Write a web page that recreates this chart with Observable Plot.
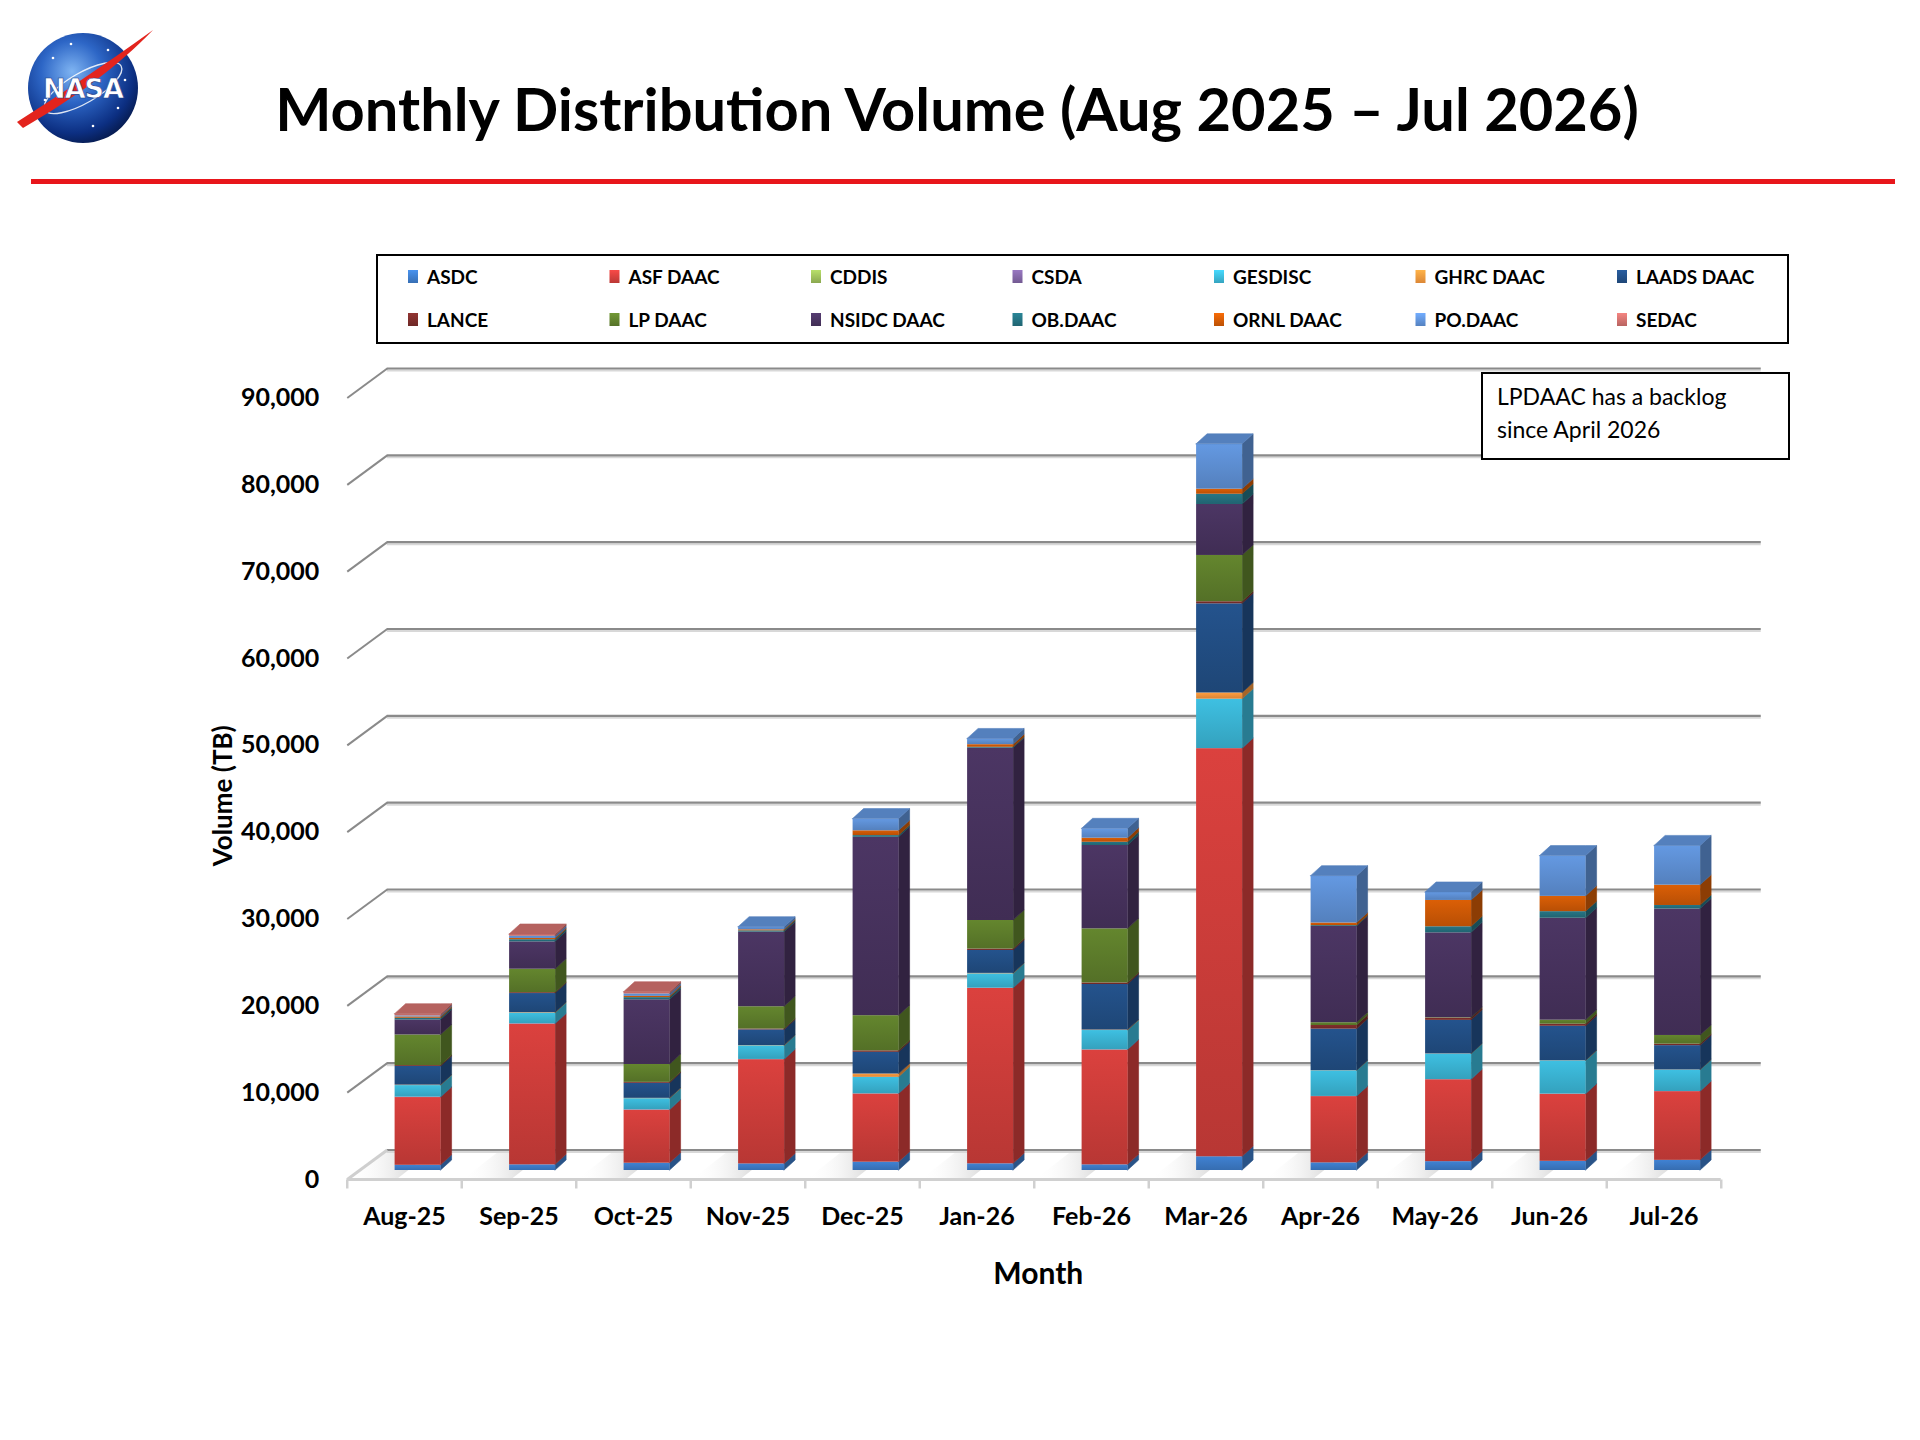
<!DOCTYPE html>
<html>
<head>
<meta charset="utf-8">
<script src="https://cdn.jsdelivr.net/npm/d3@7"></script>
<script src="https://cdn.jsdelivr.net/npm/@observablehq/plot@0.6"></script>
<style>
  html, body { margin: 0; padding: 0; background: #fff; }
  body { width: 1920px; height: 1440px; position: relative; overflow: hidden; font-family: Lato, "Open Sans", sans-serif; }
  #header { position: absolute; left: 0; top: 0; }
  #chart { position: absolute; left: 0; top: 350px; }
  #note { position: absolute; left: 1481px; top: 372px; width: 309px; height: 88px; box-sizing: border-box;
          border: 2px solid #000; background: #fff; font-family: Lato, sans-serif; font-size: 23px;
          line-height: 33px; padding: 6px 0 0 14px; color: #000; }
</style>
</head>
<body>
<div id="header"></div>
<div id="chart"></div>
<div id="note">LPDAAC has a backlog<br>since April 2026</div>
<script>
// ---------------- DATA ----------------
const months = ["Aug-25", "Sep-25", "Oct-25", "Nov-25", "Dec-25", "Jan-26", "Feb-26", "Mar-26", "Apr-26", "May-26", "Jun-26", "Jul-26"];
const seriesNames = ["ASDC", "ASF DAAC", "CDDIS", "CSDA", "GESDISC", "GHRC DAAC", "LAADS DAAC",
                     "LANCE", "LP DAAC", "NSIDC DAAC", "OB.DAAC", "ORNL DAAC", "PO.DAAC", "SEDAC"];
const seriesColors = ["#3d7bc8", "#d03e3b", "#9bbb59", "#8064a2", "#3bb6d6", "#f5963c", "#224f86",
                      "#7a2c2a", "#5f7f2c", "#48335f", "#24707f", "#d05a06", "#5f91d6", "#cd6f6c"];
const yTicks = [0, 10000, 20000, 30000, 40000, 50000, 60000, 70000, 80000, 90000];

// Volume (TB) per month, Aug-25 .. Jul-26
const asdc      = [600, 650, 840, 760, 960, 770, 650, 1580, 880, 1020, 1060, 1170];
const asfDaac   = [7800, 16200, 6100, 12000, 7850, 20200, 13220, 47000, 7630, 9430, 7720, 7910];
const cddis     = [0, 0, 0, 0, 0, 0, 0, 0, 0, 0, 0, 0];
const csda      = [50, 50, 50, 30, 20, 30, 30, 10, 20, 20, 20, 20];
const gesdisc   = [1330, 1230, 1280, 1570, 1900, 1650, 2220, 5690, 2950, 2940, 3820, 2460];
const ghrcDaac  = [50, 50, 40, 30, 380, 50, 50, 710, 20, 20, 20, 20];
const laadsDaac = [2150, 2200, 1730, 1800, 2500, 2640, 5250, 10270, 4780, 3860, 3970, 2800];
const lance     = [100, 100, 110, 100, 170, 160, 180, 240, 420, 260, 240, 170];
const lpDaac    = [3530, 2700, 2060, 2570, 4050, 3290, 6230, 5330, 320, 50, 460, 1000];
const nsidcDaac = [1720, 3150, 7450, 8590, 20540, 19850, 9600, 5870, 11080, 9770, 11740, 14560];
const obDaac    = [200, 250, 250, 150, 200, 100, 370, 1180, 100, 700, 760, 410];
const ornlDaac  = [150, 150, 150, 120, 550, 300, 470, 580, 300, 3030, 1760, 2340];
const poDaac    = [120, 250, 270, 300, 1350, 660, 1080, 5170, 5400, 920, 4640, 4520];
const sedac     = [200, 200, 200, 0, 0, 0, 0, 0, 0, 0, 0, 0];

const seriesValues = [asdc, asfDaac, cddis, csda, gesdisc, ghrcDaac, laadsDaac,
                      lance, lpDaac, nsidcDaac, obDaac, ornlDaac, poDaac, sedac];

// ---------------- GEOMETRY (pixel constants -> data units) ----------------
const W = 1920, H = 1090;
const mL = 346.75, mR = 199.25, mT = 47.5, mB = 261;
const PXM = (W - mL - mR) / 12;            // px per month
const TBPX = 90000 / (H - mB - mT);        // TB per px
const BDX = 40 / PXM, BDY = 29.5 * TBPX;   // back wall offset
const XOFF = 13.6 / PXM, HALF = 23 / PXM;  // bar front face
const DDX = 11 / PXM, DDY = 10 * TBPX;     // bar depth
const BASE = 9 * TBPX;                     // bar sits a bit behind the front edge
const SHW = 0.42;                          // floor shadow width (months)

// ---------------- STACK ----------------
const rows = [], sidePts = [], topPts = [], shadowPts = [];
months.forEach((m, i) => {
  let acc = 0, lastS = 0;
  seriesValues.forEach((arr, s) => {
    const v = arr[i];
    if (v > 0) {
      const r = {i, s, y0: acc, y1: acc + v, key: i + "-" + s};
      rows.push(r);
      const xr = i + XOFF + HALF;
      sidePts.push({key: r.key, s, x: xr, lo: r.y0 + BASE, hi: r.y1 + BASE});
      sidePts.push({key: r.key, s, x: xr + DDX, lo: r.y0 + BASE + DDY, hi: r.y1 + BASE + DDY});
      acc += v; lastS = s;
    }
  });
  const xl = i + XOFF - HALF, xr = i + XOFF + HALF, yt = acc + BASE;
  const k = "top" + i;
  topPts.push({key: k, s: lastS, x: xl, lo: yt, hi: yt});
  topPts.push({key: k, s: lastS, x: xl + DDX, lo: yt, hi: yt + DDY});
  topPts.push({key: k, s: lastS, x: xr, lo: yt, hi: yt + DDY});
  topPts.push({key: k, s: lastS, x: xr + DDX, lo: yt + DDY, hi: yt + DDY});
  // soft floor shadow, cast along the depth direction to the left of the bar
  shadowPts.push({key: "sh" + i, y: 0, a: xl - SHW + 0.02, b: xl + 0.02});
  shadowPts.push({key: "sh" + i, y: BDY, a: xl - SHW + BDX, b: xl + BDX});
});

const sideColor = seriesColors.map(c => d3.color(c).darker(1.1).formatHex());
const topColor = seriesColors.map(c => d3.color(c).darker(0.35).formatHex());
const bounds = d3.range(13).map(i => i - 0.5);

const chart = Plot.plot({
  width: W, height: H,
  marginLeft: mL, marginRight: mR, marginTop: mT, marginBottom: mB,
  x: {type: "linear", domain: [-0.5, 11.5], nice: false},
  y: {domain: [0, 90000], nice: false},
  color: {type: "identity"},
  style: {fontFamily: "Lato, sans-serif", color: "#000", background: "transparent", overflow: "visible"},
  marks: [
    // floor shadows
    Plot.areaX(shadowPts, {y: "y", x1: "a", x2: "b", z: "key", fill: "url(#shadow)"}),
    // back wall gridlines
    Plot.ruleY(yTicks, {y: d => d + BDY, x1: -0.5 + BDX, x2: 11.5 + BDX, stroke: "#d8d8d8", strokeWidth: 2, dy: 2}),
    Plot.ruleY(yTicks, {y: d => d + BDY, x1: -0.5 + BDX, x2: 11.5 + BDX, stroke: "#8a8a8a", strokeWidth: 2.2}),
    // left perspective edges
    Plot.link(yTicks, {x1: -0.5, y1: d => d, x2: -0.5 + BDX, y2: d => d + BDY,
                       stroke: d => d === 0 ? "#cfcfcf" : "#8a8a8a", strokeWidth: d => d === 0 ? 3 : 2}),
    // floor front edge and category ticks
    Plot.ruleY([0], {x1: -0.5, x2: 11.5, stroke: "#d0d0d0", strokeWidth: 3}),
    Plot.link(bounds, {x1: d => d, x2: d => d, y1: 0, y2: -9 * TBPX, stroke: "#d0d0d0", strokeWidth: 2.5}),
    // bars: side faces, front faces, top faces
    Plot.areaY(sidePts, {x: "x", y1: "lo", y2: "hi", z: "key", fill: d => sideColor[d.s], stroke: d => sideColor[d.s], strokeWidth: 0.6}),
    Plot.rect(rows, {x1: d => d.i + XOFF - HALF, x2: d => d.i + XOFF + HALF, y1: d => d.y0 + BASE, y2: d => d.y1 + BASE,
                     fill: d => `url(#gf${d.s})`}),
    Plot.areaY(topPts, {x: "x", y1: "lo", y2: "hi", z: "key", fill: d => topColor[d.s], stroke: d => topColor[d.s], strokeWidth: 0.6}),
    // axes
    Plot.axisY({ticks: yTicks, tickSize: 0, tickPadding: 28, tickFormat: d3.format(","), fontSize: 25, fontWeight: "bold", label: null}),
    Plot.axisX({ticks: d3.range(12), tickFormat: i => months[i], tickSize: 0, tickPadding: 28, fontSize: 25, fontWeight: "bold", label: null}),
    Plot.text(["Volume (TB)"], {text: d => d, frameAnchor: "left", textAnchor: "middle", lineAnchor: "middle",
                                rotate: -90, dx: -124, dy: 7, fontSize: 26, fontWeight: "bold", fill: "#000"}),
    Plot.text(["Month"], {text: d => d, frameAnchor: "bottom", textAnchor: "middle", lineAnchor: "middle",
                          dy: 95, dx: 4, fontSize: 30, fontWeight: "bold", fill: "#000"})
  ]
});

// gradients for front faces and floor shadow
const defs = d3.select(chart).insert("defs", ":first-child");
seriesColors.forEach((c, s) => {
  const g = defs.append("linearGradient").attr("id", "gf" + s).attr("x1", 0).attr("y1", 0).attr("x2", 0).attr("y2", 1);
  g.append("stop").attr("offset", "0%").attr("stop-color", d3.color(c).brighter(0.15).formatHex());
  g.append("stop").attr("offset", "100%").attr("stop-color", d3.color(c).darker(0.35).formatHex());
});
const sg = defs.append("linearGradient").attr("id", "shadow").attr("x1", 0).attr("y1", 0).attr("x2", 1).attr("y2", 0);
sg.append("stop").attr("offset", "0%").attr("stop-color", "#ffffff").attr("stop-opacity", 0);
sg.append("stop").attr("offset", "75%").attr("stop-color", "#d4d4d4").attr("stop-opacity", 0.9);
sg.append("stop").attr("offset", "100%").attr("stop-color", "#c8c8c8").attr("stop-opacity", 1);
document.getElementById("chart").appendChild(chart);

// ---------------- HEADER: logo, title, rule, legend ----------------
const hs = d3.select("#header").append("svg").attr("width", 1920).attr("height", 350)
  .style("font-family", "Lato, sans-serif");
const hdefs = hs.append("defs");
const rg = hdefs.append("radialGradient").attr("id", "ball").attr("cx", "40%").attr("cy", "35%").attr("r", "70%");
rg.append("stop").attr("offset", "0%").attr("stop-color", "#7fb4f2");
rg.append("stop").attr("offset", "40%").attr("stop-color", "#2d66c6");
rg.append("stop").attr("offset", "80%").attr("stop-color", "#0c2f82");
rg.append("stop").attr("offset", "100%").attr("stop-color", "#06194a");
seriesColors.forEach((c, s) => {
  const g = hdefs.append("linearGradient").attr("id", "lg" + s).attr("x1", 0).attr("y1", 0).attr("x2", 0).attr("y2", 1);
  g.append("stop").attr("offset", "0%").attr("stop-color", d3.color(c).brighter(0.5).formatHex());
  g.append("stop").attr("offset", "100%").attr("stop-color", d3.color(c).darker(0.3).formatHex());
});

const logo = hs.append("g").attr("transform", "translate(83,88)");
logo.append("circle").attr("r", 55).attr("fill", "url(#ball)");
[[-30, -30], [25, -38], [35, 20], [-38, 12], [10, 38], [-12, -44], [42, -8]].forEach(([x, y]) =>
  logo.append("circle").attr("cx", x).attr("cy", y).attr("r", 1.3).attr("fill", "#fff"));
logo.append("ellipse").attr("rx", 44).attr("ry", 15).attr("transform", "rotate(-30)")
  .attr("fill", "none").attr("stroke", "#fff").attr("stroke-width", 1.3).attr("opacity", 0.85);
logo.append("path").attr("d", "M-66,34 C-25,8 20,-22 70,-58 C35,-22 -5,8 -60,40 Z").attr("fill", "#e3241d");
logo.append("text").attr("text-anchor", "middle").attr("y", 10).attr("font-size", 27).attr("font-weight", 900)
  .attr("font-family", "DejaVu Sans").attr("fill", "#fff").attr("stroke", "#1b3c8a").attr("stroke-width", 0.6)
  .attr("letter-spacing", -1).text("NASA");

const title = hs.append("text").attr("x", 957).attr("y", 131).attr("text-anchor", "middle")
  .attr("font-size", 54).attr("font-weight", "bold").attr("fill", "#000")
  .text("Monthly Distribution Volume (Aug 2025 \u2013 Jul 2026)");
const tl = title.node().getComputedTextLength();
if (tl > 0) title.attr("font-size", 54 * 1364 / tl);

hs.append("rect").attr("x", 31).attr("y", 179).attr("width", 1864).attr("height", 5).attr("fill", "#e8161b");

// legend
hs.append("rect").attr("x", 377).attr("y", 255).attr("width", 1411).attr("height", 88)
  .attr("fill", "#fff").attr("stroke", "#000").attr("stroke-width", 2);
seriesNames.forEach((name, s) => {
  const row = Math.floor(s / 7), col = s % 7;
  const cx = 408 + col * 201.5, cy = row === 0 ? 277 : 320;
  hs.append("rect").attr("x", cx).attr("y", cy - 7).attr("width", 10).attr("height", 13).attr("fill", `url(#lg${s})`);
  hs.append("text").attr("x", cx + 19).attr("y", cy).attr("dy", "0.36em").attr("font-size", 19)
    .attr("font-weight", "bold").attr("fill", "#000").text(name);
});
</script>
</body>
</html>
